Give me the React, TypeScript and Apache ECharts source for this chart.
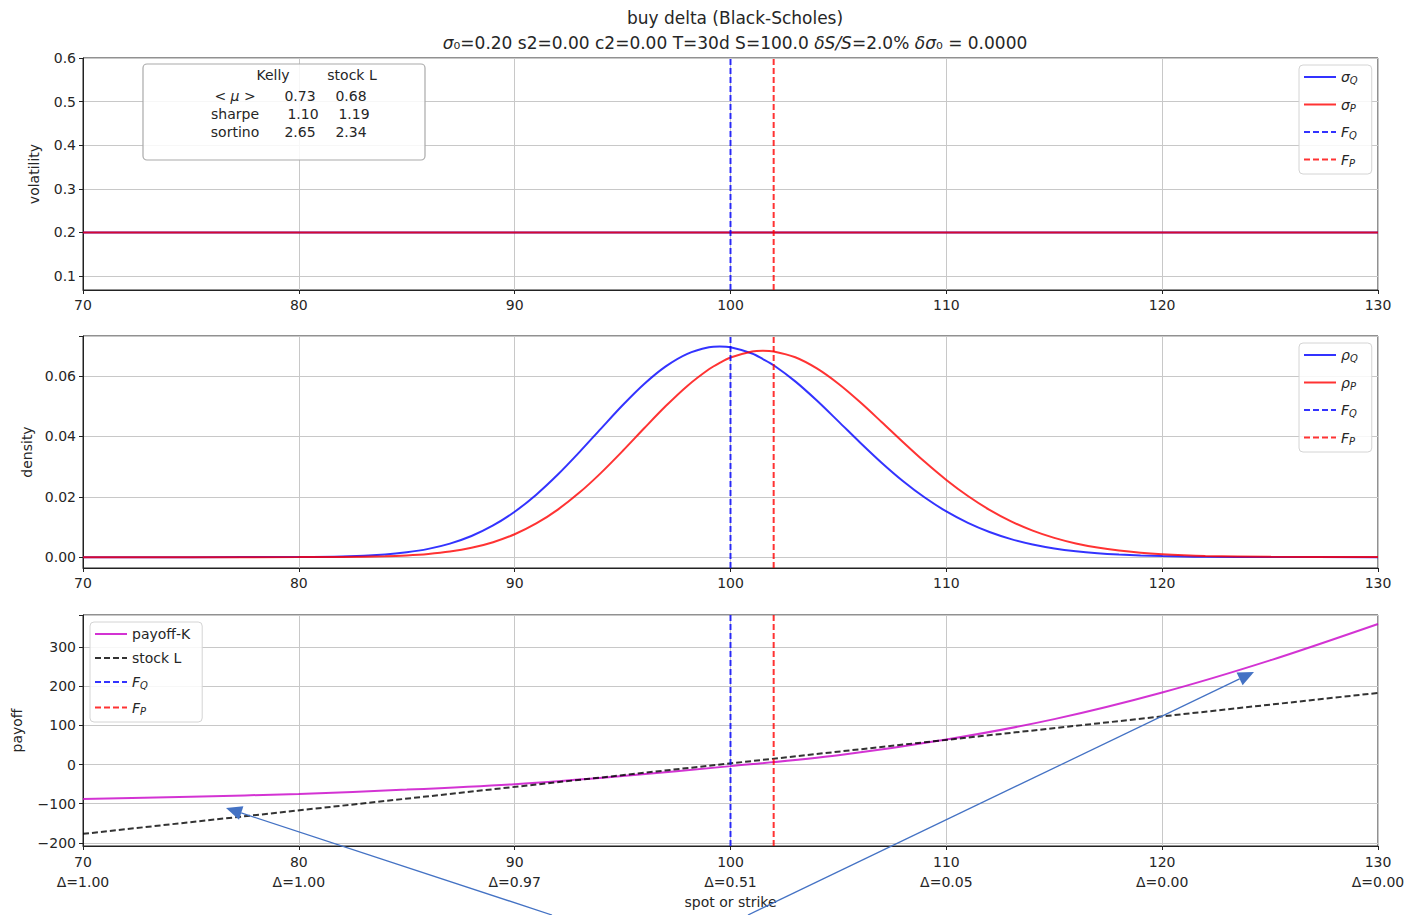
import React, { useEffect, useRef } from "react";
import * as echarts from "echarts";

// ---- data ----
const xTicks = [70, 80, 90, 100, 110, 120, 130];
const deltaLabels = ["1.00", "1.00", "0.97", "0.51", "0.05", "0.00", "0.00"];

const forwardQ = 100;
const forwardP = 102;

const sigmaX = [70, 130];
const sigmaQ = [0.2, 0.2];
const sigmaP = [0.2, 0.2];

const densX = [70, 75, 80, 82, 84, 85, 86, 87, 88, 89, 90, 91, 92, 93, 94, 95, 96, 97, 98, 99, 99.5, 100, 101, 101.5, 102, 103, 104, 105, 106, 107, 108, 109, 110, 111, 112, 113, 114, 115, 116, 117, 118, 119, 120, 121, 122, 125, 130];
const rhoQ = [0, 0.000001, 0.00005, 0.00023, 0.00089, 0.0016, 0.00274, 0.00449, 0.00701, 0.0105, 0.01505, 0.02071, 0.02737, 0.03481, 0.04262, 0.05034, 0.05739, 0.06322, 0.06738, 0.06954, 0.06981, 0.06956, 0.0675, 0.06566, 0.06361, 0.05826, 0.05191, 0.04501, 0.03803, 0.03132, 0.02517, 0.01975, 0.01514, 0.01135, 0.00832, 0.00597, 0.0042, 0.00289, 0.00195, 0.00129, 0.00084, 0.00054, 0.00034, 0.00021, 0.00013, 0.00003, 0];
const rhoP = [0, 0, 0.00001, 0.00007, 0.0003, 0.00057, 0.00105, 0.00184, 0.00309, 0.00495, 0.00759, 0.01116, 0.01576, 0.02139, 0.02794, 0.03517, 0.0427, 0.05007, 0.05676, 0.06228, 0.06442, 0.06618, 0.06819, 0.06844, 0.06819, 0.06624, 0.06254, 0.05746, 0.0514, 0.0448, 0.03808, 0.03158, 0.02558, 0.02025, 0.01567, 0.01186, 0.00879, 0.00638, 0.00454, 0.00317, 0.00217, 0.00146, 0.00096, 0.00062, 0.0004, 0.00009, 0.00001];

const payX = [70, 75, 80, 85, 90, 95, 100, 105, 110, 115, 120, 125, 130];
const payoffK = [-88, -82, -75, -64, -50, -29, -4, 24, 64, 116, 184, 266, 359];
const stockX = [70, 130];
const stockL = [-177, 183];

const statRows = ["< {i|μ} >", "sharpe", "sortino"];
const statCols = ["Kelly", "stock L"];
const kellyStats = ["0.73", "1.10", "2.65"];
const stockStats = ["0.68", "1.19", "2.34"];

// ---- styling ----
const FONT = "DejaVu Sans";
const BLUE = "rgba(0,0,255,0.8)";
const RED = "rgba(255,0,0,0.8)";
const MAGENTA = "rgba(200,0,200,0.8)";
const BLACK = "rgba(0,0,0,0.8)";
const TEXT = "#262626";

const volRange = [0.068, 0.6];
const densRange = [-0.0036, 0.0733];
const payRange = [-208, 382];

const legendNames: Record<string, string> = {
  "σQ": "{i|σ}{s|Q}",
  "σP": "{i|σ}{s|P}",
  "ρQ": "{i|ρ}{s|Q}",
  "ρP": "{i|ρ}{s|P}",
  FQ: "{i|F}{s|Q}",
  FP: "{i|F}{s|P}",
  "payoff-K": "payoff-K",
  "stock L": "stock L",
};

const richText = {
  i: { fontStyle: "italic", fontSize: 14, fontFamily: FONT, color: TEXT },
  s: { fontStyle: "italic", fontSize: 10, fontFamily: FONT, color: TEXT, padding: [7, 0, 0, 0] },
};

function zip(xs: number[], ys: number[]) {
  return xs.map((x, i) => [x, ys[i]]);
}

function lineSeries(name: string, data: any[], color: string, idx: number, dashed = false, smooth = false) {
  return {
    type: "line",
    name,
    data,
    xAxisIndex: idx,
    yAxisIndex: idx,
    showSymbol: false,
    symbol: "none",
    smooth: smooth ? 0.3 : false,
    lineStyle: { color, width: 2, type: dashed ? [6, 3] : "solid" },
    itemStyle: { color },
    silent: true,
  };
}

function vline(name: string, x: number, color: string, idx: number, range: number[]) {
  return lineSeries(name, [[x, range[0]], [x, range[1]]], color, idx, true);
}

function isMultiple(v: number, step: number) {
  const r = v / step;
  return Math.abs(r - Math.round(r)) < 1e-6;
}

const grids = [
  { left: 83, top: 58, width: 1295, height: 232 },
  { left: 83, top: 336, width: 1295, height: 232 },
  { left: 83, top: 615, width: 1295, height: 231 },
];

function xAxis(idx: number, bottom: boolean) {
  return {
    type: "value",
    gridIndex: idx,
    min: 70,
    max: 130,
    interval: 10,
    name: bottom ? "spot or strike" : "",
    nameLocation: "middle",
    nameGap: 49,
    nameTextStyle: { fontFamily: FONT, fontSize: 14, color: TEXT },
    axisLine: { show: true, onZero: false, lineStyle: { color: "#222", width: 1 } },
    axisTick: { show: true, inside: false, length: 4, lineStyle: { color: "#222" } },
    axisLabel: {
      show: true,
      fontFamily: FONT,
      fontSize: 14,
      color: TEXT,
      margin: bottom ? 6 : 5,
      lineHeight: 20,
      formatter: (v: number) => {
        if (!bottom) return String(v);
        const k = xTicks.indexOf(v);
        return `${v}\nΔ=${deltaLabels[k]}`;
      },
    },
    splitLine: { show: true, lineStyle: { color: "#c8c8c8", width: 1 } },
  };
}

function yAxis(idx: number, name: string, range: number[], step: number, digits: number, gap: number, splitNumber: number) {
  return {
    type: "value",
    gridIndex: idx,
    min: range[0],
    max: range[1],
    splitNumber,
    name,
    nameLocation: "middle",
    nameGap: gap,
    nameTextStyle: { fontFamily: FONT, fontSize: 14, color: TEXT },
    axisLine: { show: true, onZero: false, lineStyle: { color: "#222", width: 1 } },
    axisTick: { show: true, inside: false, length: 4, lineStyle: { color: "#222" } },
    axisLabel: {
      show: true,
      fontFamily: FONT,
      fontSize: 14,
      color: TEXT,
      margin: 7,
      showMinLabel: false,
      formatter: (v: number) => {
        if (!isMultiple(v, step)) return "";
        return v.toFixed(digits).replace("-", "\u2212");
      },
    },
    splitLine: { show: true, lineStyle: { color: "#c8c8c8", width: 1 } },
  };
}

function legend(names: string[], left: number, top: number, itemGap: number, padRight: number) {
  return {
    data: names,
    orient: "vertical",
    left,
    top,
    itemWidth: 32,
    itemHeight: 14,
    itemGap,
    padding: [5, padRight, 6, 4],
    borderColor: "#d4d4d4",
    borderWidth: 1,
    borderRadius: 4,
    backgroundColor: "rgba(255,255,255,0.85)",
    selectedMode: false,
    itemStyle: { opacity: 0 },
    textStyle: { fontFamily: FONT, fontSize: 14, color: TEXT, rich: richText },
    formatter: (n: string) => legendNames[n] || n,
  };
}

function arrow(x1: number, y1: number, x2: number, y2: number) {
  const dx = x2 - x1;
  const dy = y2 - y1;
  const len = Math.sqrt(dx * dx + dy * dy);
  const ux = dx / len;
  const uy = dy / len;
  const hl = 16;
  const hw = 7;
  const bx = x2 - hl * ux;
  const by = y2 - hl * uy;
  const color = "#4472c4";
  return [
    { type: "line", shape: { x1, y1, x2: bx, y2: by }, style: { stroke: color, lineWidth: 1.3 }, z: 100 },
    {
      type: "polygon",
      shape: {
        points: [
          [x2, y2],
          [bx - hw * uy, by + hw * ux],
          [bx + hw * uy, by - hw * ux],
        ],
      },
      style: { fill: color },
      z: 100,
    },
  ];
}

function statsBox() {
  const boxX = 143;
  const boxY = 64;
  const colX = [235, 300, 351];
  const els: any[] = [
    {
      type: "rect",
      shape: { x: boxX, y: boxY, width: 282, height: 96, r: 4 },
      style: { fill: "rgba(255,255,255,0.85)", stroke: "#aaa", lineWidth: 1.2 },
      z: 50,
    },
  ];
  const headerX = [273, 352];
  statCols.forEach((c, k) => {
    els.push({
      type: "text",
      x: headerX[k],
      y: 75,
      style: { text: c, fontFamily: FONT, fontSize: 14, fill: TEXT, align: "center", verticalAlign: "middle" },
      z: 51,
    });
  });
  statRows.forEach((r, k) => {
    const y = 96 + k * 18;
    els.push({
      type: "text",
      x: colX[0],
      y,
      style: {
        text: r,
        fontFamily: FONT,
        fontSize: 14,
        fill: TEXT,
        align: "center",
        verticalAlign: "middle",
        rich: { i: { fontStyle: "italic", fontSize: 14, fontFamily: FONT, fill: TEXT } },
      },
      z: 51,
    });
    els.push({
      type: "text",
      x: colX[1] + (k === 1 ? 3 : 0),
      y,
      style: { text: kellyStats[k], fontFamily: FONT, fontSize: 14, fill: TEXT, align: "center", verticalAlign: "middle" },
      z: 51,
    });
    els.push({
      type: "text",
      x: colX[2] + (k === 1 ? 3 : 0),
      y,
      style: { text: stockStats[k], fontFamily: FONT, fontSize: 14, fill: TEXT, align: "center", verticalAlign: "middle" },
      z: 51,
    });
  });
  return { type: "group", children: els };
}

export default function App() {
  const ref = useRef<HTMLDivElement>(null);
  useEffect(() => {
    if (!ref.current) return;
    const chart = echarts.init(ref.current, null, { renderer: "svg" });
    const option: any = {
      animation: false,
      backgroundColor: "#fff",
      title: {
        left: 730,
        top: 0,
        textAlign: "center",
        text: "buy delta (Black-Scholes)\n{i|σ}₀=0.20 s2=0.00 c2=0.00 T=30d S=100.0 {i|δS/S}=2.0% {i|δσ}₀ = 0.0000",
        textStyle: {
          fontFamily: FONT,
          fontSize: 17,
          fontWeight: "normal",
          color: TEXT,
          lineHeight: 25,
          rich: { i: { fontStyle: "italic", fontFamily: FONT, fontSize: 17, color: TEXT } },
        },
      },
      grid: grids.map((g) => ({
        ...g,
        show: true,
        borderColor: "#222",
        borderWidth: 1,
        backgroundColor: "transparent",
        containLabel: false,
        outerBoundsMode: "none",
      })),
      xAxis: [xAxis(0, false), xAxis(1, false), xAxis(2, true)],
      yAxis: [
        yAxis(0, "volatility", volRange, 0.1, 1, 42, 5),
        yAxis(1, "density", densRange, 0.02, 2, 49, 4),
        yAxis(2, "payoff", payRange, 100, 0, 59, 5),
      ],
      legend: [
        legend(["σQ", "σP", "FQ", "FP"], 1299, 65, 12, 14),
        legend(["ρQ", "ρP", "FQ", "FP"], 1299, 343, 12, 14),
        legend(["payoff-K", "stock L", "FQ", "FP"], 90, 622, 10, 12),
      ],
      series: [
        lineSeries("σQ", zip(sigmaX, sigmaQ), BLUE, 0),
        lineSeries("σP", zip(sigmaX, sigmaP), RED, 0),
        vline("FQ", forwardQ, BLUE, 0, volRange),
        vline("FP", forwardP, RED, 0, volRange),
        lineSeries("ρQ", zip(densX, rhoQ), BLUE, 1, false, true),
        lineSeries("ρP", zip(densX, rhoP), RED, 1, false, true),
        vline("FQ", forwardQ, BLUE, 1, densRange),
        vline("FP", forwardP, RED, 1, densRange),
        lineSeries("payoff-K", zip(payX, payoffK), MAGENTA, 2, false, true),
        lineSeries("stock L", zip(stockX, stockL), BLACK, 2, true),
        vline("FQ", forwardQ, BLUE, 2, payRange),
        vline("FP", forwardP, RED, 2, payRange),
      ],
      graphic: [statsBox(), ...arrow(552, 915, 226, 808), ...arrow(748, 915, 1254, 672)],
    };
    chart.setOption(option);
    return () => chart.dispose();
  }, []);
  return <div ref={ref} style={{ position: "absolute", left: 0, top: 0, width: 1406, height: 915 }} />;
}
